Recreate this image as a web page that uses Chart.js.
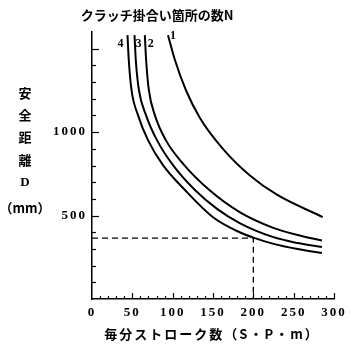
<!DOCTYPE html>
<html><head><meta charset="utf-8">
<script src="https://cdn.jsdelivr.net/npm/chart.js@4/dist/chart.umd.min.js"></script>
<style>html,body{margin:0;padding:0;background:#fff}#wrap{width:355px;height:353px}</style>
</head><body><div id="wrap"><canvas id="c" width="355" height="353"></canvas></div>
<script>
// Data
const curveLabels = ['1', '2', '3', '4'];
const n1X = [94.2, 102.9, 116.5, 133.8, 162.3, 195.8, 229.2, 286];
const n1Y = [1581, 1431, 1251, 1085, 900, 740, 625, 491];
const n2X = [65.5, 67.1, 70.5, 77.9, 91.5, 113, 145.5, 183, 224, 255, 285];
const n2Y = [1581, 1431, 1251, 1102, 952, 810, 653, 521, 428, 383, 350];
const n3X = [52.7, 54.3, 58.2, 66.9, 80.5, 100.4, 127.6, 155, 183, 224, 255, 285];
const n3Y = [1581, 1431, 1251, 1102, 952, 802, 653, 540, 455, 372, 335, 311];
const n4X = [44.0, 45.6, 49.0, 57.0, 69.4, 88.0, 115.2, 150, 183, 200, 224, 255, 285];
const n4Y = [1581, 1431, 1251, 1102, 952, 802, 653, 490, 400, 368, 332, 299, 275];
const guideX = [0, 200, 200];
const guideY = [365, 365, 0];
const xTickLabels = ['0', '50', '100', '150', '200', '250', '300'];
const yTickLabels = {500: '500', 1000: '1000'};

const titleText = 'クラッチ掛合い箇所の数N';
const yTitleChars = ['安', '全', '距', '離', 'D', '（mm）'];
const xTitleText = '毎分ストローク数（S・P・m）';

const pts = (xs, ys) => xs.map((x, i) => ({x: x, y: ys[i]}));
const curveStyle = {borderColor: '#000', borderWidth: 2, pointRadius: 0, fill: false, cubicInterpolationMode: 'monotone'};

const serif = '"Liberation Serif", "DejaVu Serif", serif';
const cjk = '"Noto Sans CJK JP", sans-serif';

const decor = {
  id: 'decor',
  beforeDraw(chart) { chart.ctx.letterSpacing = '2px'; },
  afterDraw(chart) {
    const ctx = chart.ctx, xs = chart.scales.x, ys = chart.scales.y;
    ctx.letterSpacing = '0px';
    ctx.save();
    ctx.strokeStyle = '#000'; ctx.lineWidth = 1.2;
    // inward ticks on y axis
    for (let v = 100; v <= 1500; v += 100) {
      const py = Math.round(ys.getPixelForValue(v)) + 0.5;
      const len = (v % 500 === 0) ? 7 : 4;
      ctx.beginPath(); ctx.moveTo(xs.left, py); ctx.lineTo(xs.left + len, py); ctx.stroke();
    }
    // inward ticks on x axis
    for (let v = 10; v <= 300; v += 10) {
      const px = Math.round(xs.getPixelForValue(v)) + 0.5;
      const len = (v % 50 === 0) ? 6 : 3;
      ctx.beginPath(); ctx.moveTo(px, ys.bottom); ctx.lineTo(px, ys.bottom - len); ctx.stroke();
    }
    ctx.fillStyle = '#000';
    // title
    ctx.font = 'bold 13px ' + cjk;
    ctx.textAlign = 'center'; ctx.textBaseline = 'middle';
    ctx.fillText(titleText, 157, 15);
    // curve labels
    ctx.font = 'bold 12px ' + serif;
    const tops = [[n1X[0], 5, 36], [n2X[0], 6, 44], [n3X[0], 4, 44], [n4X[0], -7, 44]];
    tops.forEach((t, i) => {
      const px = xs.getPixelForValue(t[0]) + t[1];
      ctx.fillText(curveLabels[i], px, t[2]);
    });
    // y title
    const yPos = [93, 115, 137, 160, 183, 208];
    yTitleChars.forEach((ch, i) => {
      ctx.font = (i === 4 ? 'bold 13px ' + serif : 'bold 13px ' + cjk);
      ctx.fillText(ch, 25, yPos[i]);
    });
    // x title
    ctx.font = 'bold 13px ' + cjk;
    ctx.letterSpacing = '2px';
    ctx.fillText(xTitleText, 212, 334);
    ctx.restore();
  }
};

new Chart(document.getElementById('c'), {
  type: 'line',
  data: {
    datasets: [
      Object.assign({label: 'N=1', data: pts(n1X, n1Y)}, curveStyle),
      Object.assign({label: 'N=2', data: pts(n2X, n2Y)}, curveStyle),
      Object.assign({label: 'N=3', data: pts(n3X, n3Y)}, curveStyle),
      Object.assign({label: 'N=4', data: pts(n4X, n4Y)}, curveStyle),
      {label: 'guide', data: pts(guideX, guideY), borderColor: '#000', borderWidth: 1.3, borderDash: [6, 4], pointRadius: 0, tension: 0, fill: false}
    ]
  },
  options: {
    responsive: false, animation: false, devicePixelRatio: 1,
    layout: {padding: {top: 32, right: 21, left: 0, bottom: 0}},
    plugins: {legend: {display: false}, tooltip: {enabled: false}, title: {display: false}},
    scales: {
      x: {
        type: 'linear', min: 0, max: 300,
        grid: {display: false, drawTicks: false},
        border: {display: true, color: '#000', width: 1.5},
        ticks: {stepSize: 50, autoSkip: false, padding: 6, color: '#000',
          font: {family: serif, size: 13, weight: 'bold'},
          callback: (v) => xTickLabels[v / 50]},
        afterFit: (s) => { s.height = 54; }
      },
      y: {
        type: 'linear', min: 0, max: 1600,
        grid: {display: false, drawTicks: false},
        border: {display: true, color: '#000', width: 1.5},
        ticks: {stepSize: 100, autoSkip: false, padding: 5, color: '#000',
          font: {family: serif, size: 13, weight: 'bold'},
          callback: (v) => yTickLabels[v] || ''},
        afterFit: (s) => { s.width = 92; }
      }
    }
  },
  plugins: [decor]
});
</script></body></html>
